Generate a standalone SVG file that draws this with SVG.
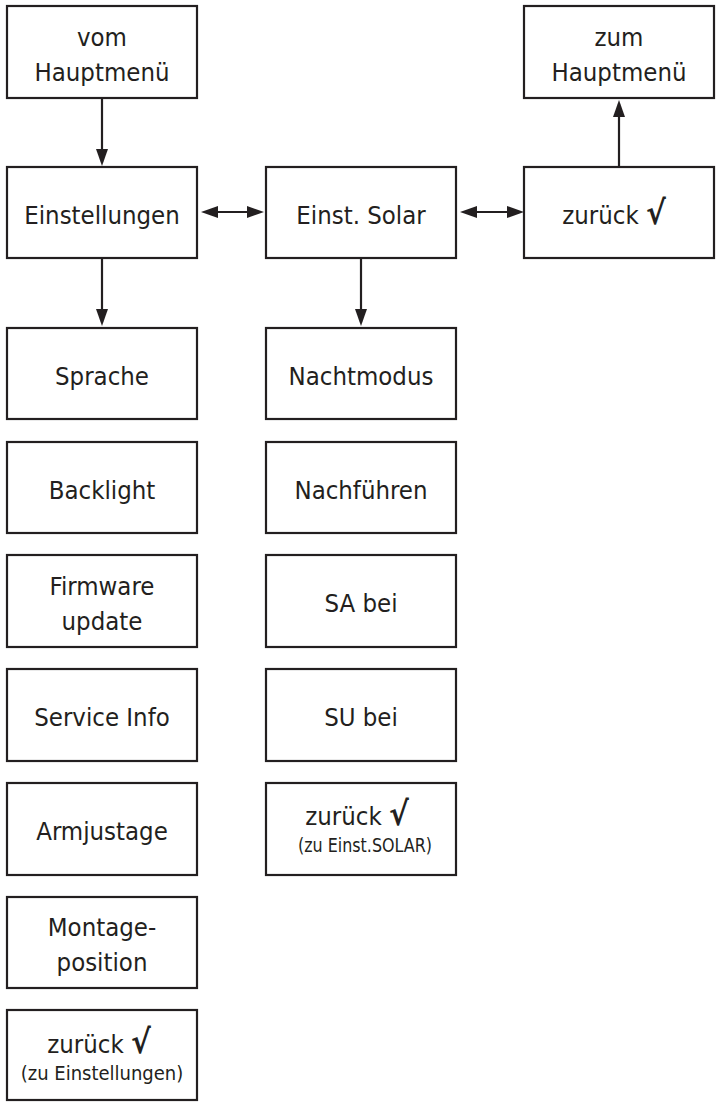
<svg xmlns="http://www.w3.org/2000/svg" width="719" height="1103" viewBox="0 0 719 1103">
<style>
.box{fill:#fff;stroke:#231f20;stroke-width:2.2}
.t{font-family:"DejaVu Sans Condensed","DejaVu Sans",sans-serif;font-stretch:condensed;font-size:25.5px;fill:#231f20;text-anchor:middle}
.s{font-size:20px}
.ck{font-size:33px;font-weight:bold}
.conn{stroke:#231f20;stroke-width:2.2;fill:none}
</style>
<defs>
<marker id="ah" markerUnits="userSpaceOnUse" markerWidth="17" markerHeight="12" refX="13" refY="6" orient="auto-start-reverse"><path d="M0,0 L17,6 L0,12 z" fill="#231f20"/></marker>
</defs>
<g id="connectors">
<path class="conn" d="M102,99 L102,162" marker-end="url(#ah)"/>
<path class="conn" d="M102,259 L102,322" marker-end="url(#ah)"/>
<path class="conn" d="M361,259 L361,322" marker-end="url(#ah)"/>
<path class="conn" d="M619,166 L619,104" marker-end="url(#ah)"/>
<path class="conn" d="M205,212 L260,212" marker-start="url(#ah)" marker-end="url(#ah)"/>
<path class="conn" d="M464,212 L520,212" marker-start="url(#ah)" marker-end="url(#ah)"/>
</g>
<g id="vom-hauptmenue"><rect class="box" x="7" y="6" width="190" height="92"/><text class="t" x="102" y="46">vom</text><text class="t" x="102" y="81">Hauptmenü</text></g>
<g id="zum-hauptmenue"><rect class="box" x="524" y="6" width="190" height="92"/><text class="t" x="619" y="46">zum</text><text class="t" x="619" y="81">Hauptmenü</text></g>
<g id="einstellungen"><rect class="box" x="7" y="167" width="190" height="91"/><text class="t" x="102" y="224">Einstellungen</text></g>
<g id="einst-solar"><rect class="box" x="266" y="167" width="190" height="91"/><text class="t" x="361" y="224">Einst. Solar</text></g>
<g id="zurueck-haupt"><rect class="box" x="524" y="167" width="190" height="91"/><text class="t" x="614" y="224">zurück <tspan class="ck">√</tspan></text></g>
<g id="sprache"><rect class="box" x="7" y="328" width="190" height="91"/><text class="t" x="102" y="385">Sprache</text></g>
<g id="backlight"><rect class="box" x="7" y="442" width="190" height="91"/><text class="t" x="102" y="499">Backlight</text></g>
<g id="firmware"><rect class="box" x="7" y="555" width="190" height="92"/><text class="t" x="102" y="595">Firmware</text><text class="t" x="102" y="630">update</text></g>
<g id="service-info"><rect class="box" x="7" y="669" width="190" height="92"/><text class="t" x="102" y="726">Service Info</text></g>
<g id="armjustage"><rect class="box" x="7" y="783" width="190" height="92"/><text class="t" x="102" y="840">Armjustage</text></g>
<g id="montageposition"><rect class="box" x="7" y="897" width="190" height="91"/><text class="t" x="102" y="936">Montage-</text><text class="t" x="102" y="971">position</text></g>
<g id="zurueck-einstellungen"><rect class="box" x="7" y="1010" width="190" height="90"/><text class="t" x="99" y="1053">zurück <tspan class="ck">√</tspan></text><text class="t s" x="102" y="1080">(zu Einstellungen)</text></g>
<g id="nachtmodus"><rect class="box" x="266" y="328" width="190" height="91"/><text class="t" x="361" y="385">Nachtmodus</text></g>
<g id="nachfuehren"><rect class="box" x="266" y="442" width="190" height="91"/><text class="t" x="361" y="499">Nachführen</text></g>
<g id="sa-bei"><rect class="box" x="266" y="555" width="190" height="92"/><text class="t" x="361" y="612">SA bei</text></g>
<g id="su-bei"><rect class="box" x="266" y="669" width="190" height="92"/><text class="t" x="361" y="726">SU bei</text></g>
<g id="zurueck-solar"><rect class="box" x="266" y="783" width="190" height="92"/><text class="t" x="357" y="825">zurück <tspan class="ck">√</tspan></text><text class="t s" x="365" y="852" textLength="134" lengthAdjust="spacingAndGlyphs">(zu Einst.SOLAR)</text></g>
</svg>
